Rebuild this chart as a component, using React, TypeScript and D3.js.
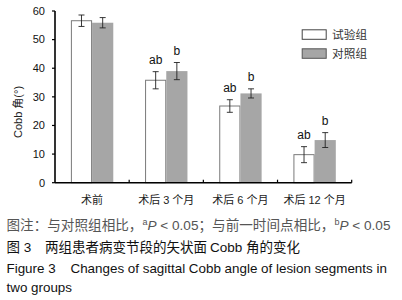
import React from "react";
import * as d3 from "d3";

const categories = ["术前", "术后 3 个月", "术后 6 个月", "术后 12 个月"];
const seriesNames = ["试验组", "对照组"];
const trialValues = [56.6, 35.8, 26.8, 9.8];
const trialErrors = [2.0, 3.0, 2.2, 2.8];
const controlValues = [55.9, 39.0, 31.2, 14.9];
const controlErrors = [1.8, 3.0, 1.6, 2.6];
const trialMarks = ["", "ab", "ab", "ab"];
const controlMarks = ["", "b", "b", "b"];
const yTicks = [0, 10, 20, 30, 40, 50, 60];

const W = 402;
const H = 300;
const plot = { left: 55, right: 351.7, top: 11, bottom: 182.7 };
const latin = "'Liberation Sans', Arial, sans-serif";
const cjk = "'Liberation Sans', 'Noto Sans CJK SC', sans-serif";

export default function App() {
  const x = d3.scaleBand<string>().domain(categories).range([plot.left, plot.right]).paddingInner(0).paddingOuter(0);
  const x1 = d3.scaleBand<string>().domain(seriesNames).range([0, x.bandwidth()]).paddingInner(0).paddingOuter(0.75);
  const y = d3.scaleLinear().domain([0, 60]).range([plot.bottom, plot.top]);

  const series = [
    { name: seriesNames[0], values: trialValues, errors: trialErrors, marks: trialMarks, fill: "#ffffff", stroke: "#7a7a7a" },
    { name: seriesNames[1], values: controlValues, errors: controlErrors, marks: controlMarks, fill: "#a6a6a6", stroke: "none" },
  ];

  const boundaries = categories.map((c) => (x(c) as number) + x.bandwidth());

  return (
    <svg width={W} height={H} style={{ position: "absolute", left: 0, top: 0, background: "#fff" }}>
      <rect x={0} y={0} width={W} height={H} fill="#fff" />
      {/* bars */}
      {series.map((s) =>
        categories.map((c, i) => {
          const bx = (x(c) as number) + (x1(s.name) as number);
          const bw = x1.bandwidth();
          const top = y(s.values[i]);
          return (
            <rect key={s.name + c} x={bx + (s.stroke === "none" ? 0 : 0.5)} y={top} width={bw - (s.stroke === "none" ? 0 : 1)} height={plot.bottom - top}
              fill={s.fill} stroke={s.stroke} strokeWidth={1} />
          );
        })
      )}
      {/* error bars */}
      {series.map((s) =>
        categories.map((c, i) => {
          const cx = (x(c) as number) + (x1(s.name) as number) + x1.bandwidth() / 2;
          const t = y(s.values[i] + s.errors[i]);
          const b = y(s.values[i] - s.errors[i]);
          return (
            <g key={"e" + s.name + c} stroke="#222" strokeWidth={0.9}>
              <line x1={cx} x2={cx} y1={t} y2={b} />
              <line x1={cx - 3} x2={cx + 3} y1={t} y2={t} />
              <line x1={cx - 3} x2={cx + 3} y1={b} y2={b} />
            </g>
          );
        })
      )}
      {/* significance marks */}
      {series.map((s) =>
        categories.map((c, i) => {
          const cx = (x(c) as number) + (x1(s.name) as number) + x1.bandwidth() / 2;
          const t = y(s.values[i] + s.errors[i]);
          return s.marks[i] ? (
            <text key={"m" + s.name + c} x={cx} y={t - 8} textAnchor="middle" fontFamily={latin} fontSize={12} fill="#111">
              {s.marks[i]}
            </text>
          ) : null;
        })
      )}
      {/* axes */}
      <line x1={plot.left} x2={plot.left} y1={plot.top} y2={plot.bottom} stroke="#000" strokeWidth={1.6} />
      <line x1={plot.left} x2={plot.right} y1={plot.bottom} y2={plot.bottom} stroke="#000" strokeWidth={1.6} />
      {yTicks.map((t) => (
        <g key={"yt" + t}>
          <line x1={plot.left - 3} x2={plot.left} y1={y(t)} y2={y(t)} stroke="#000" strokeWidth={1.2} />
          <text x={plot.left - 10} y={y(t)} dy="0.35em" textAnchor="end" fontFamily={latin} fontSize={11} fill="#111">
            {t}
          </text>
        </g>
      ))}
      {boundaries.map((bx, i) => (
        <line key={"xt" + i} x1={bx} x2={bx} y1={plot.bottom - 3} y2={plot.bottom} stroke="#000" strokeWidth={1.2} />
      ))}
      {categories.map((c) => (
        <text key={"xl" + c} x={(x(c) as number) + x.bandwidth() / 2} y={203.5} textAnchor="middle" fontFamily={cjk} fontSize={11} fill="#222">
          {c}
        </text>
      ))}
      <text transform={`translate(22,112) rotate(-90)`} textAnchor="middle" fontFamily={cjk} fontSize={11} fill="#222">
        Cobb 角(°)
      </text>
      {/* legend */}
      {series.map((s, i) => (
        <g key={"lg" + s.name}>
          <rect x={302.2} y={29.8 + i * 19} width={24} height={9.5} fill={s.fill} stroke={s.stroke === "none" ? "#555" : "#444"} strokeWidth={1} />
          <text x={332} y={34.5 + i * 19} dy="0.35em" fontFamily={cjk} fontSize={11.7} fill="#333">
            {s.name}
          </text>
        </g>
      ))}
      {/* captions */}
      <text x={6.5} y={230.3} fontFamily={cjk} fontSize={13.6} fill="#555">
        图注：与对照组相比，
        <tspan fontSize={9} dy={-5}>a</tspan>
        <tspan dy={5} fontStyle="italic">P</tspan>
        {" < 0.05；与前一时间点相比，"}
        <tspan fontSize={9} dy={-5}>b</tspan>
        <tspan dy={5} fontStyle="italic">P</tspan>
        {" < 0.05"}
      </text>
      <text y={252.3} fontFamily={cjk} fontSize={13.5} fill="#111">
        <tspan x={6.5}>图 3</tspan>
        <tspan x={45}>两组患者病变节段的矢状面</tspan>
        <tspan x={210}>Cobb</tspan>
        <tspan x={246}>角的变化</tspan>
      </text>
      <text x={6.5} y={273} fontFamily={latin} fontSize={13.4} fill="#111" xmlSpace="preserve">
        Figure 3    Changes of sagittal Cobb angle of lesion segments in
      </text>
      <text x={6.5} y={291.5} fontFamily={latin} fontSize={13.4} fill="#111">
        two groups
      </text>
    </svg>
  );
}
